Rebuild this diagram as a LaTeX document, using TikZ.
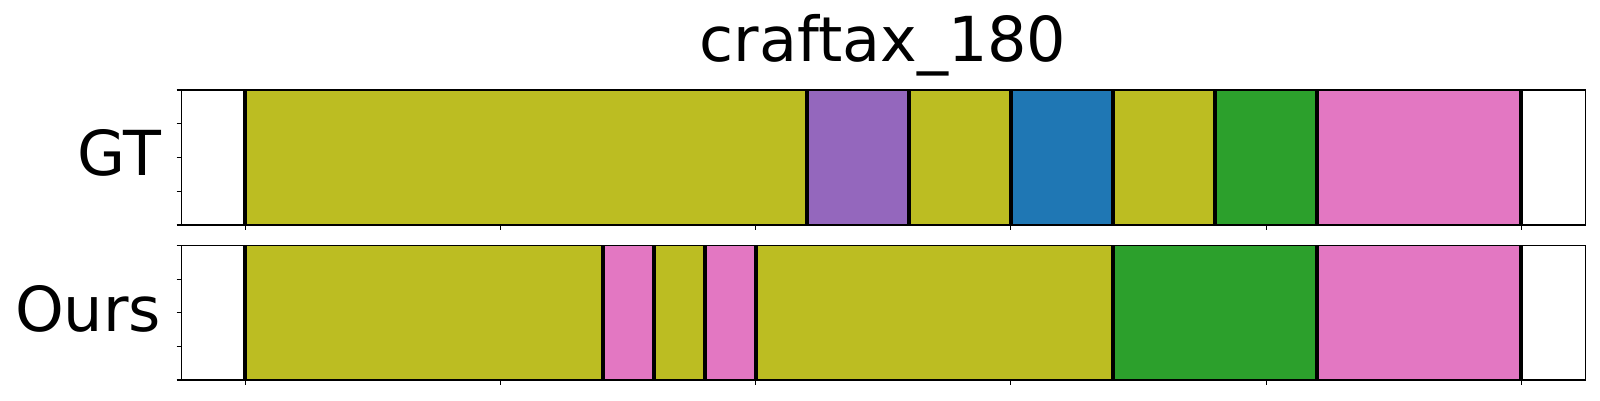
\documentclass[tikz,border=0pt]{standalone}
\usepackage{fontspec}
\setmainfont{DejaVu Sans}
\definecolor{tolive}{HTML}{BCBD22}
\definecolor{tpurple}{HTML}{9467BD}
\definecolor{tblue}{HTML}{1F77B4}
\definecolor{tgreen}{HTML}{2CA02C}
\definecolor{tpink}{HTML}{E377C2}
\tikzset{
  spine/.style={draw=black, line width=1.1pt},
  tickline/.style={draw=black, line width=1.1pt},
  sepline/.style={draw=black, line width=4pt},
  bigtext/.style={font=\fontsize{62}{70}\selectfont, inner sep=0pt, outer sep=0pt},
}
\newcommand{\seg}[4]{% from, to, top, bottom, color via \segcol
  \fill[\segcol] ({245.3+255.2*#1},#3) rectangle ({245.3+255.2*#2},#4);}
\begin{document}
\begin{tikzpicture}[x=1pt,y=-1pt]
\useasboundingbox (0,0) rectangle (1600,400);
% title
\node[bigtext, anchor=base] (title) at (883,61.7) {craftax\_180};
% labels
\node[bigtext, anchor=base east] (gt) at (161,175) {GT};
\node[bigtext, anchor=base east] (ours) at (161,331) {Ours};
% ---------- GT panel ----------
\def\ta{90}\def\tb{225}
\def\segcol{tolive}\seg{0}{2.2}{\ta}{\tb}
\def\segcol{tpurple}\seg{2.2}{2.6}{\ta}{\tb}
\def\segcol{tolive}\seg{2.6}{3.0}{\ta}{\tb}
\def\segcol{tblue}\seg{3.0}{3.4}{\ta}{\tb}
\def\segcol{tolive}\seg{3.4}{3.8}{\ta}{\tb}
\def\segcol{tgreen}\seg{3.8}{4.2}{\ta}{\tb}
\def\segcol{tpink}\seg{4.2}{5.0}{\ta}{\tb}
\foreach \b in {0,2.2,2.6,3.0,3.4,3.8,4.2,5.0}
  \draw[sepline] ({245.3+255.2*\b},\ta) -- ({245.3+255.2*\b},\tb);
\draw[spine] (181.7,\ta) rectangle (1585.7,\tb);
\foreach \k in {0,...,4}
  \draw[tickline] (176.7,{\ta+33.75*\k}) -- (181.7,{\ta+33.75*\k});
\foreach \k in {0,...,5}
  \draw[tickline] ({245.3+255.2*\k},\tb) -- ({245.3+255.2*\k},{\tb+5});
% ---------- Ours panel ----------
\def\ba{245.7}\def\bb{380}
\def\segcol{tolive}\seg{0}{1.4}{\ba}{\bb}
\def\segcol{tpink}\seg{1.4}{1.6}{\ba}{\bb}
\def\segcol{tolive}\seg{1.6}{1.8}{\ba}{\bb}
\def\segcol{tpink}\seg{1.8}{2.0}{\ba}{\bb}
\def\segcol{tolive}\seg{2.0}{3.4}{\ba}{\bb}
\def\segcol{tgreen}\seg{3.4}{4.2}{\ba}{\bb}
\def\segcol{tpink}\seg{4.2}{5.0}{\ba}{\bb}
\foreach \b in {0,1.4,1.6,1.8,2.0,3.4,4.2,5.0}
  \draw[sepline] ({245.3+255.2*\b},\ba) -- ({245.3+255.2*\b},\bb);
\draw[spine] (181.7,\ba) rectangle (1585.7,\bb);
\foreach \k in {0,...,4}
  \draw[tickline] (176.7,{\ba+33.575*\k}) -- (181.7,{\ba+33.575*\k});
\foreach \k in {0,...,5}
  \draw[tickline] ({245.3+255.2*\k},\bb) -- ({245.3+255.2*\k},{\bb+5});
\end{tikzpicture}
\end{document}
